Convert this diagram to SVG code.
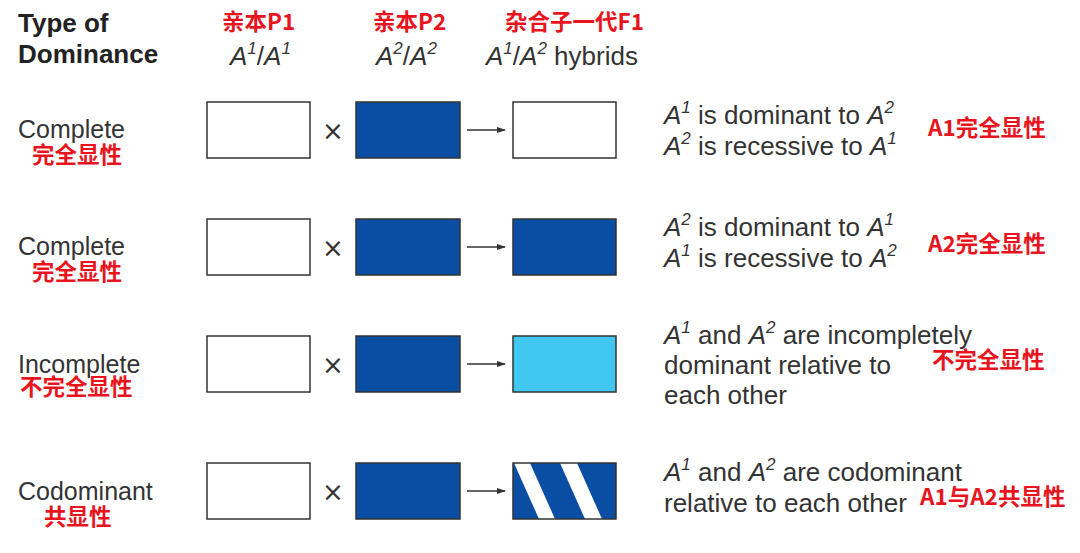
<svg xmlns="http://www.w3.org/2000/svg" width="1080" height="553" viewBox="0 0 1080 553">
<style>
.t{font-family:"Liberation Sans",Arial,sans-serif;fill:#333;font-size:26px}
.n{font-size:25px}
.h{font-family:"Liberation Sans",Arial,sans-serif;fill:#222;font-size:26px;font-weight:bold}
.r{font-family:"Noto Sans CJK SC",sans-serif;fill:#e8141e;font-size:22.5px;font-weight:bold}
.i{font-style:italic}
.s{font-style:italic;font-size:17px}
.w{fill:#fff;stroke:#333;stroke-width:1.5}
.d{fill:#0a4ea3;stroke:#333;stroke-width:1.5}
.l{fill:#41c8f2;stroke:#333;stroke-width:1.5}
.x{font-family:"DejaVu Sans",sans-serif;fill:#333;font-size:26px}
</style>
<defs><marker id="a" markerWidth="9" markerHeight="8" refX="8" refY="4" orient="auto" markerUnits="userSpaceOnUse"><path d="M0,1 L9,4 L0,7z" fill="#333"/></marker>
<clipPath id="c"><rect x="513" y="463" width="103" height="56"/></clipPath></defs>
<g id="header">
<text class="h" x="18" y="32">Type of</text><text class="h" x="18" y="63">Dominance</text>
<text class="r" x="222" y="30">亲本P1</text><text class="r" x="373" y="30">亲本P2</text><text class="r" x="505" y="30">杂合子一代F1</text>
<text class="t" x="230" y="65"><tspan class="i">A</tspan><tspan class="s" dy="-11">1</tspan><tspan dy="11">/</tspan><tspan class="i">A</tspan><tspan class="s" dy="-11">1</tspan></text>
<text class="t" x="376" y="65"><tspan class="i">A</tspan><tspan class="s" dy="-11">2</tspan><tspan dy="11">/</tspan><tspan class="i">A</tspan><tspan class="s" dy="-11">2</tspan></text>
<text class="t" x="486" y="65"><tspan class="i">A</tspan><tspan class="s" dy="-11">1</tspan><tspan dy="11">/</tspan><tspan class="i">A</tspan><tspan class="s" dy="-11">2</tspan><tspan dy="11"> hybrids</tspan></text>
</g>
<g id="row1">
<text class="t n" x="18" y="138">Complete</text><text class="r" x="32" y="163">完全显性</text>
<rect class="w" x="207" y="102" width="103" height="56"/><text class="x" x="322" y="140">×</text>
<rect class="d" x="356" y="102" width="104" height="56"/><rect class="w" x="513" y="102" width="103" height="56"/>
<text class="t" x="664" y="124"><tspan class="i">A</tspan><tspan class="s" dy="-11">1</tspan><tspan dy="11"> is dominant to </tspan><tspan class="i">A</tspan><tspan class="s" dy="-11">2</tspan></text>
<text class="t" x="664" y="155"><tspan class="i">A</tspan><tspan class="s" dy="-11">2</tspan><tspan dy="11"> is recessive to </tspan><tspan class="i">A</tspan><tspan class="s" dy="-11">1</tspan></text>
<text class="r" x="928" y="136">A1完全显性</text>
</g>
<g id="row2">
<text class="t n" x="18" y="255">Complete</text><text class="r" x="32" y="280">完全显性</text>
<rect class="w" x="207" y="219" width="103" height="56"/><text class="x" x="322" y="257">×</text>
<rect class="d" x="356" y="219" width="104" height="56"/><rect class="d" x="513" y="219" width="103" height="56"/>
<text class="t" x="664" y="236"><tspan class="i">A</tspan><tspan class="s" dy="-11">2</tspan><tspan dy="11"> is dominant to </tspan><tspan class="i">A</tspan><tspan class="s" dy="-11">1</tspan></text>
<text class="t" x="664" y="267"><tspan class="i">A</tspan><tspan class="s" dy="-11">1</tspan><tspan dy="11"> is recessive to </tspan><tspan class="i">A</tspan><tspan class="s" dy="-11">2</tspan></text>
<text class="r" x="928" y="252">A2完全显性</text>
</g>
<g id="row3">
<text class="t n" x="18" y="373">Incomplete</text><text class="r" x="20" y="395">不完全显性</text>
<rect class="w" x="207" y="336" width="103" height="56"/><text class="x" x="322" y="374">×</text>
<rect class="d" x="356" y="336" width="104" height="56"/><rect class="l" x="513" y="336" width="103" height="56"/>
<text class="t" x="664" y="344"><tspan class="i">A</tspan><tspan class="s" dy="-11">1</tspan><tspan dy="11"> and </tspan><tspan class="i">A</tspan><tspan class="s" dy="-11">2</tspan><tspan dy="11"> are incompletely</tspan></text>
<text class="t" x="664" y="374">dominant relative to</text>
<text class="t" x="664" y="404">each other</text>
<text class="r" x="932" y="368">不完全显性</text>
</g>
<g id="row4">
<text class="t n" x="18" y="500">Codominant</text><text class="r" x="44" y="525">共显性</text>
<rect class="w" x="207" y="463" width="103" height="56"/><text class="x" x="322" y="501">×</text>
<rect class="d" x="356" y="463" width="104" height="56"/>
<g clip-path="url(#c)"><rect x="513" y="463" width="103" height="56" fill="#0a4ea3"/>
<polygon points="514,463 530,463 555,519 539,519" fill="#fff"/><polygon points="560,463 577,463 602,519 585,519" fill="#fff"/></g>
<rect x="513" y="463" width="103" height="56" fill="none" stroke="#333" stroke-width="1.5"/>
<text class="t" x="664" y="481"><tspan class="i">A</tspan><tspan class="s" dy="-11">1</tspan><tspan dy="11"> and </tspan><tspan class="i">A</tspan><tspan class="s" dy="-11">2</tspan><tspan dy="11"> are codominant</tspan></text>
<text class="t" x="664" y="512">relative to each other</text>
<text class="r" x="920" y="505">A1与A2共显性</text>
</g>
<g id="connectors" stroke="#333" stroke-width="1.5" marker-end="url(#a)">
<line x1="467" y1="130" x2="505" y2="130"/><line x1="467" y1="247" x2="505" y2="247"/>
<line x1="467" y1="364" x2="505" y2="364"/><line x1="467" y1="491" x2="505" y2="491"/>
</g>
</svg>
